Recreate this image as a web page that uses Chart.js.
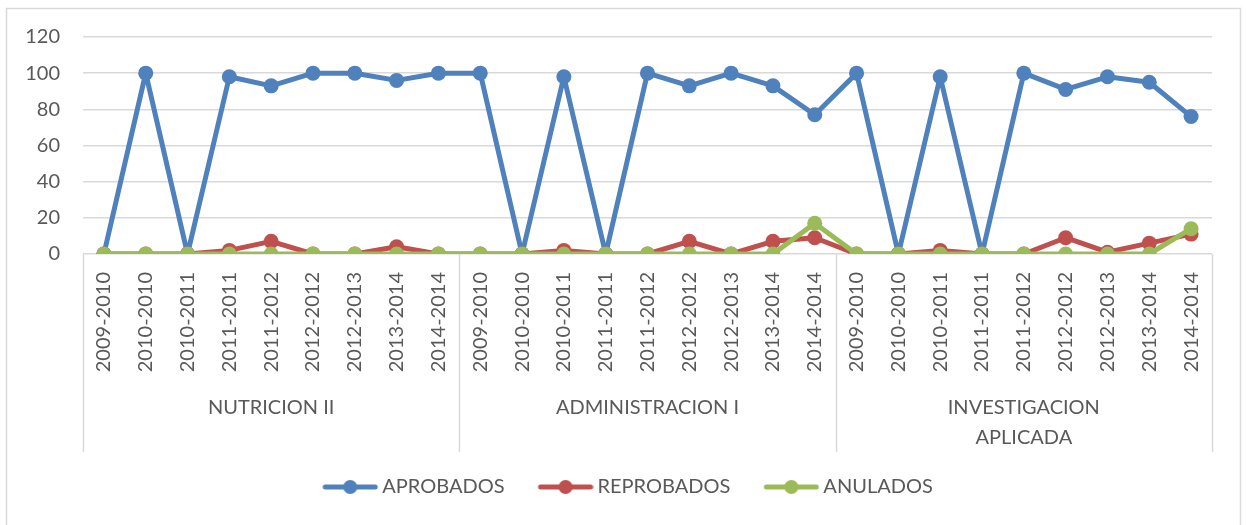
<!DOCTYPE html>
<html>
<head>
<meta charset="utf-8">
<script src="https://cdn.jsdelivr.net/npm/chart.js@4/dist/chart.umd.min.js"></script>
<style>
  body { margin: 0; background: #fff; }
  #wrap { width: 1247px; height: 525px; }
</style>
</head>
<body>
<div id="wrap"><canvas id="myChart" width="1247" height="525"></canvas></div>
<script>
// periods repeated for each course
var periods = ['2009-2010', '2010-2010', '2010-2011', '2011-2011', '2011-2012', '2012-2012', '2012-2013', '2013-2014', '2014-2014'];
var groups = [['NUTRICION II'], ['ADMINISTRACION I'], ['INVESTIGACION', 'APLICADA']];

var aprobados  = [0, 100, 0, 98, 93, 100, 100, 96, 100,   100, 0, 98, 0, 100, 93, 100, 93, 77,   100, 0, 98, 0, 100, 91, 98, 95, 76];
var reprobados = [0, 0, 0, 2, 7, 0, 0, 4, 0,              0, 0, 2, 0, 0, 7, 0, 7, 9,             0, 0, 2, 0, 0, 9, 1, 6, 11];
var anulados   = [0, 0, 0, 0, 0, 0, 0, 0, 0,              0, 0, 0, 0, 0, 0, 0, 0, 17,            0, 0, 0, 0, 0, 0, 0, 0, 14];

var yTicks = [0, 20, 40, 60, 80, 100, 120];

var FONT = 'Lato';
var TXT = '#595959';
var GRID = '#d9d9d9';
var BOXW = 58;

var xLabels = [];
groups.forEach(function () { periods.forEach(function (p) { xLabels.push(p); }); });

// legend picture: line with a dot, pushed to the right so it sits next to the text
function legendIcon(color) {
  var c = document.createElement('canvas');
  c.width = BOXW + 12; c.height = 18;
  var g = c.getContext('2d');
  var x0 = c.width - 56;
  g.strokeStyle = color;
  g.lineWidth = 5;
  g.lineCap = 'round';
  g.beginPath(); g.moveTo(x0 + 3, 9); g.lineTo(x0 + 53, 9); g.stroke();
  g.fillStyle = color;
  g.beginPath(); g.arc(x0 + 28, 9, 7, 0, Math.PI * 2); g.fill();
  return c;
}

var groupPlugin = {
  id: 'groups',
  beforeDraw: function (chart) {
    var ctx = chart.ctx;
    ctx.save();
    ctx.strokeStyle = GRID;
    ctx.lineWidth = 1.5;
    ctx.beginPath();
    ctx.moveTo(6.5, 530); ctx.lineTo(6.5, 8.5); ctx.lineTo(1240.5, 8.5); ctx.lineTo(1240.5, 530);
    ctx.stroke();
    ctx.restore();
  },
  afterDraw: function (chart) {
    var x = chart.scales.x, ctx = chart.ctx;
    var n = periods.length;
    ctx.save();
    ctx.strokeStyle = GRID;
    ctx.lineWidth = 1.5;
    var bounds = [];
    for (var g = 0; g <= groups.length; g++) {
      var px;
      if (g === 0) px = x.left;
      else if (g === groups.length) px = x.right;
      else px = (x.getPixelForValue(g * n - 1) + x.getPixelForValue(g * n)) / 2;
      bounds.push(px);
      ctx.beginPath();
      ctx.moveTo(Math.round(px) + 0.5, x.top);
      ctx.lineTo(Math.round(px) + 0.5, x.bottom);
      ctx.stroke();
    }
    ctx.fillStyle = TXT;
    ctx.font = '20px ' + FONT;
    ctx.textAlign = 'center';
    ctx.textBaseline = 'middle';
    for (var i = 0; i < groups.length; i++) {
      var cx = (bounds[i] + bounds[i + 1]) / 2;
      groups[i].forEach(function (line, k) {
        ctx.fillText(line, cx, x.top + 154 + k * 30);
      });
    }
    ctx.restore();
  }
};

var ctx = document.getElementById('myChart').getContext('2d');
var icons = ['#4f81bd', '#c0504d', '#9bbb59'].map(legendIcon);

var myChart = new Chart(ctx, {
  type: 'line',
  data: {
    labels: xLabels,
    datasets: [
      { label: 'APROBADOS', data: aprobados, borderColor: '#4f81bd', backgroundColor: '#4f81bd', order: 3 },
      { label: 'REPROBADOS', data: reprobados, borderColor: '#c0504d', backgroundColor: '#c0504d', order: 2 },
      { label: 'ANULADOS', data: anulados, borderColor: '#9bbb59', backgroundColor: '#9bbb59', order: 1 }
    ]
  },
  options: {
    responsive: false,
    animation: false,
    events: [],
    elements: {
      line: { borderWidth: 5, tension: 0, borderJoinStyle: 'round', borderCapStyle: 'round' },
      point: { radius: 7.5, borderWidth: 0, pointStyle: 'circle' }
    },
    layout: { padding: { top: 37, left: 0, right: 0, bottom: 18 } },
    scales: {
      x: {
        offset: true,
        grid: { display: false, drawTicks: false },
        border: { display: false },
        ticks: {
          autoSkip: false, minRotation: 90, maxRotation: 90, padding: 18,
          color: TXT, font: { family: FONT, size: 20 }
        },
        afterFit: function (s) { s.height = 198; }
      },
      y: {
        min: 0, max: 120,
        afterBuildTicks: function (s) { s.ticks = yTicks.map(function (v) { return { value: v }; }); },
        grid: { color: GRID, lineWidth: 1.5, drawTicks: false },
        border: { display: false },
        ticks: { padding: 23, color: TXT, font: { family: FONT, size: 20 } },
        afterFit: function (s) { s.width = 83; }
      },
      // empty right margin so the legend centres on the whole picture
      yr: {
        position: 'right', min: 0, max: 120,
        grid: { display: false, drawTicks: false },
        border: { display: false },
        ticks: { display: false },
        afterFit: function (s) { s.width = 35; }
      }
    },
    plugins: {
      tooltip: { enabled: false },
      legend: {
        position: 'bottom',
        labels: {
          usePointStyle: true,
          pointStyleWidth: BOXW,
          padding: 25,
          color: TXT,
          font: { family: FONT, size: 20 },
          generateLabels: function (chart) {
            return chart.data.datasets.map(function (d, i) {
              return { text: d.label, fillStyle: d.borderColor, strokeStyle: d.borderColor, lineWidth: 0, pointStyle: icons[i], datasetIndex: i, fontColor: TXT };
            });
          }
        }
      }
    }
  },
  plugins: [groupPlugin]
});
</script>
</body>
</html>
